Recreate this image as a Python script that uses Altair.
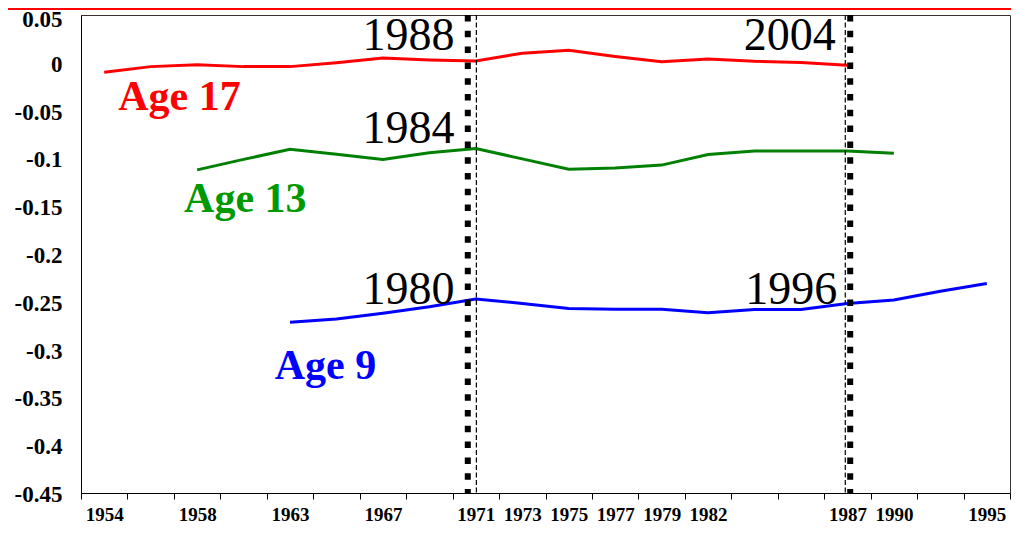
import json
import altair as alt
import pandas as pd

# ---- data ----
x_labels = ["1954", "", "1958", "", "1963", "", "1967", "", "1971", "1973",
            "1975", "1977", "1979", "1982", "", "", "1987", "1990", "", "1995"]

age17_start = 0
age17 = [-0.010, -0.004, -0.002, -0.004, -0.004, 0.000, 0.005, 0.003, 0.002,
         0.010, 0.013, 0.0065, 0.001, 0.004, 0.0015, 0.0003, -0.0025]
age13_start = 2
age13 = [-0.112, -0.101, -0.0905, -0.0956, -0.1012, -0.094, -0.0896, -0.1005,
         -0.1113, -0.110, -0.107, -0.0959, -0.0922, -0.0922, -0.0922, -0.0946]
age9_start = 4
age9 = [-0.2713, -0.268, -0.262, -0.2551, -0.247, -0.2518, -0.257, -0.2577,
        -0.2577, -0.2614, -0.258, -0.258, -0.2518, -0.248, -0.2389, -0.2309]

series_names = ["Age 17", "Age 13", "Age 9"]
line_colors = ["#FF0000", "#008000", "#0000FF"]
text_colors = ["#FF0000", "#009900", "#0000FF"]

age_label_x = [0.30, 1.72, 3.67]
age_label_y = [-0.0496, -0.1563, -0.331]

dotted_x = [7.827, 16.06]
dashed_x = [8.012, 15.954]

year_labels = ["1988", "1984", "1980", "2004", "1996"]
year_label_x = [7.54, 7.54, 7.54, 15.75, 15.78]
year_label_y = [0.013, -0.0844, -0.2518, 0.013, -0.2518]

y_ticks = [0.05, 0, -0.05, -0.1, -0.15, -0.2, -0.25, -0.3, -0.35, -0.4, -0.45]

# ---- tables ----
rows = []
for name, start, vals in [("Age 17", age17_start, age17),
                          ("Age 13", age13_start, age13),
                          ("Age 9", age9_start, age9)]:
    for i, v in enumerate(vals):
        rows.append({"series": name, "cat": start + i, "value": v})
lines_df = pd.DataFrame(rows)

age_df = pd.DataFrame({"series": series_names, "x": age_label_x, "y": age_label_y})
dotted_df = pd.DataFrame({"x": dotted_x})
dashed_df = pd.DataFrame({"x": dashed_x})
year_df = pd.DataFrame({"label": year_labels, "x": year_label_x, "y": year_label_y})

FONT = "Liberation Serif"
n = len(x_labels)
x_values = [k * 0.5 - 0.5 for k in range(2 * n + 1)]

x_scale = alt.Scale(domain=[-0.5, n - 0.5], nice=False, zero=False)
y_scale = alt.Scale(domain=[-0.45, 0.05], nice=False, zero=False)

x_axis = alt.Axis(
    values=x_values,
    labelExpr="datum.value % 1 === 0 ? " + json.dumps(x_labels) + "[datum.value] : ''",
    tickOpacity={"condition": {"test": "datum.value % 1 !== 0", "value": 1}, "value": 0},
    tickSize=6, tickColor="#000", tickWidth=1,
    domainColor="#000", domainWidth=1,
    labelFont=FONT, labelFontSize=19, labelFontWeight="bold", labelColor="#000",
    labelBaseline="alphabetic", labelPadding=21, labelAngle=0,
    labelOverlap=False, labelFlush=False, grid=False, title=None,
)
y_axis = alt.Axis(
    values=y_ticks,
    labelExpr="(datum.value < 0 ? '-' : '') + format(abs(datum.value), '~g')",
    ticks=False, tickSize=0, domainColor="#000", domainWidth=1,
    labelFont=FONT, labelFontSize=23, labelFontWeight="bold", labelColor="#000",
    labelPadding=19,
    labelOffset={"condition": {"test": "datum.value > 0.04", "value": 4.5}, "value": 1.5},
    labelOverlap=False, labelFlush=False,
    grid=False, title=None,
)


def X(field):
    return alt.X(field, type="quantitative", scale=x_scale, axis=x_axis)


def Y(field):
    return alt.Y(field, type="quantitative", scale=y_scale, axis=y_axis)


lines = alt.Chart(lines_df).mark_line(strokeWidth=3).encode(
    x=X("cat"), y=Y("value"),
    color=alt.Color("series:N", scale=alt.Scale(domain=series_names, range=line_colors), legend=None),
    detail="series:N",
)

dotted = alt.Chart(dotted_df).mark_rule(color="#000", strokeWidth=6, strokeDash=[6.5, 9.3]).encode(
    x=X("x")
)
dashed = alt.Chart(dashed_df).mark_rule(color="#000", strokeWidth=1.2, strokeDash=[5, 2.5]).encode(
    x=X("x")
)

year_text = alt.Chart(year_df).mark_text(
    font=FONT, fontSize=46, align="right", baseline="alphabetic", color="#000"
).encode(x=X("x"), y=Y("y"), text="label:N")

age_text = alt.Chart(age_df).mark_text(
    font=FONT, fontSize=42, fontWeight="bold", align="left", baseline="alphabetic"
).encode(
    x=X("x"), y=Y("y"), text="series:N",
    color=alt.Color("series:N", scale=alt.Scale(domain=series_names, range=text_colors), legend=None),
)

top_bar = alt.Chart(pd.DataFrame({"k": [0]})).mark_rule(color="#FF0000", strokeWidth=2).encode(
    x=alt.value(-80), x2=alt.value(935), y=alt.value(-6)
)

chart = alt.layer(lines, dotted, dashed, year_text, age_text, top_bar).resolve_scale(
    color="independent"
).properties(
    width=929, height=478,
    autosize=alt.AutoSizeParams(type="none"),
    padding={"left": 73, "top": 7, "right": 1, "bottom": 32},
    background="white",
).configure_view(stroke="#333", strokeWidth=1)

chart.save("out.html", embed_options={"renderer": "svg", "actions": False})
